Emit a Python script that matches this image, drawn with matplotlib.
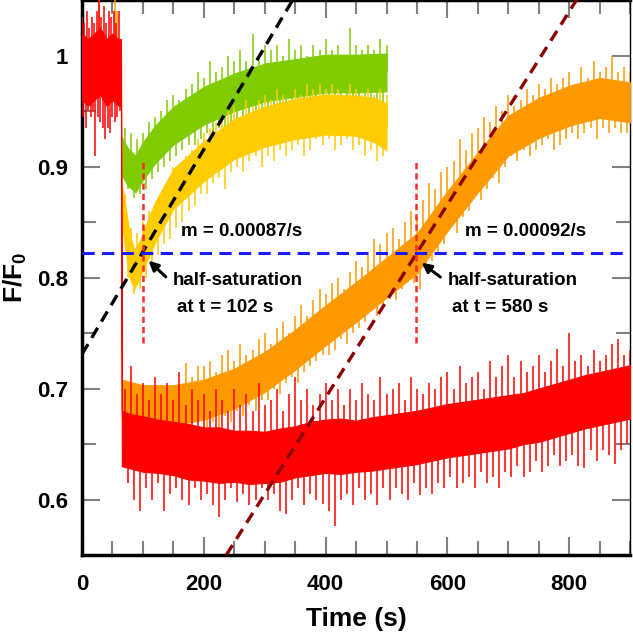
import numpy as np
import matplotlib
matplotlib.use('Agg')
import matplotlib.pyplot as plt
from matplotlib.ticker import MultipleLocator

# --- data (time in s, F/F0) ---
# dense core of each noisy trace: lower and upper edge
red_t = [0, 10, 20, 30, 40, 50, 60, 64, 65.5, 80, 100, 125, 150, 175, 200, 225, 250, 275, 300, 325, 350,
         375, 400, 425, 450, 475, 500, 525, 550, 575, 600, 625, 650, 675, 700, 725, 750, 775, 800, 825,
         850, 875, 900]
red_lo = [0.96, 0.955, 0.96, 0.965, 0.955, 0.96, 0.955, 0.955, 0.63, 0.628, 0.625, 0.624, 0.622, 0.618,
          0.617, 0.615, 0.616, 0.614, 0.615, 0.616, 0.62, 0.622, 0.624, 0.623, 0.625, 0.626, 0.628, 0.63,
          0.632, 0.635, 0.638, 0.64, 0.642, 0.644, 0.646, 0.65, 0.652, 0.656, 0.66, 0.664, 0.667, 0.67, 0.673]
red_hi = [1.02, 1.015, 1.02, 1.025, 1.015, 1.02, 1.015, 1.015, 0.68, 0.677, 0.675, 0.672, 0.67, 0.668,
          0.665, 0.665, 0.662, 0.662, 0.661, 0.664, 0.666, 0.67, 0.672, 0.673, 0.671, 0.674, 0.676, 0.678,
          0.68, 0.683, 0.686, 0.688, 0.69, 0.692, 0.694, 0.696, 0.7, 0.704, 0.708, 0.712, 0.715, 0.718, 0.721]

orange_t = [0, 20, 40, 60, 64, 65.5, 100, 150, 200, 250, 300, 350, 400, 450, 500, 550, 600, 650, 700, 750,
            800, 850, 900]
orange_lo = [0.972, 0.972, 0.972, 0.972, 0.972, 0.672, 0.667, 0.667, 0.672, 0.682, 0.697, 0.717, 0.739,
             0.760, 0.782, 0.804, 0.842, 0.877, 0.910, 0.926, 0.937, 0.944, 0.940]
orange_hi = [1.008, 1.008, 1.008, 1.008, 1.008, 0.708, 0.703, 0.703, 0.708, 0.718, 0.733, 0.753, 0.775,
             0.796, 0.818, 0.840, 0.878, 0.913, 0.946, 0.962, 0.973, 0.980, 0.976]

yellow_t = [65, 70, 78, 86, 95, 105, 120, 150, 200, 250, 300, 350, 400, 450, 480, 500]
yellow_lo = [0.855, 0.83, 0.80, 0.79, 0.80, 0.813, 0.832, 0.862, 0.887, 0.907, 0.918, 0.925, 0.929, 0.928,
             0.922, 0.915]
yellow_hi = [0.885, 0.87, 0.84, 0.825, 0.833, 0.848, 0.868, 0.898, 0.923, 0.943, 0.954, 0.961, 0.965, 0.964,
             0.962, 0.957]

green_t = [65, 75, 88, 100, 120, 150, 200, 250, 300, 350, 400, 450, 500]
green_lo = [0.893, 0.883, 0.877, 0.888, 0.903, 0.92, 0.938, 0.95, 0.959, 0.963, 0.967, 0.967, 0.968]
green_hi = [0.927, 0.917, 0.91, 0.922, 0.937, 0.954, 0.972, 0.984, 0.993, 0.997, 1.001, 1.001, 1.002]

# noise spikes: tips of the upward and downward excursions
red_up_t = list(range(0, 61, 4)) + list(range(70, 901, 10))
red_up = [1.035, 1.03, 1.04, 1.025, 1.035, 1.03, 1.04, 1.05, 1.035, 1.045, 1.03, 1.04, 1.035, 1.04, 1.03, 1.04,
          0.70, 0.72, 0.695,
          0.705, 0.69, 0.71, 0.695, 0.705, 0.69, 0.715, 0.685, 0.70, 0.69,
          0.695, 0.68, 0.70, 0.69, 0.68, 0.70, 0.685, 0.695, 0.68, 0.705,
          0.685, 0.69, 0.70, 0.68, 0.695, 0.71, 0.69, 0.70, 0.685, 0.695,
          0.705, 0.69, 0.70, 0.685, 0.70, 0.69, 0.705, 0.695, 0.69, 0.71,
          0.695, 0.70, 0.705, 0.69, 0.71, 0.70, 0.695, 0.705, 0.70, 0.71,
          0.715, 0.70, 0.72, 0.705, 0.71, 0.715, 0.70, 0.725, 0.71, 0.72,
          0.73, 0.71, 0.725, 0.715, 0.72, 0.73, 0.715, 0.725, 0.736, 0.72,
          0.75, 0.725, 0.73, 0.72, 0.735, 0.725, 0.73, 0.74, 0.745, 0.73,
          0.735]
red_dn_t = list(range(2, 63, 4)) + list(range(75, 896, 10))
red_dn = [0.945, 0.935, 0.95, 0.945, 0.95, 0.91, 0.945, 0.94, 0.935, 0.925, 0.935, 0.93, 0.945, 0.94, 0.945, 0.95,
          0.615, 0.60, 0.59,
          0.61, 0.60, 0.615, 0.59, 0.605, 0.61, 0.60, 0.595, 0.61, 0.60,
          0.605, 0.595, 0.584, 0.60, 0.61, 0.598, 0.605, 0.595, 0.60, 0.61,
          0.60, 0.605, 0.59, 0.587, 0.60, 0.61, 0.595, 0.605, 0.60, 0.596,
          0.59, 0.576, 0.60, 0.605, 0.595, 0.61, 0.60, 0.605, 0.595, 0.61,
          0.60, 0.61, 0.605, 0.60, 0.615, 0.604, 0.61, 0.605, 0.615, 0.61,
          0.62, 0.61, 0.615, 0.62, 0.61, 0.625, 0.615, 0.62, 0.61, 0.625,
          0.62, 0.63, 0.62, 0.625, 0.635, 0.625, 0.63, 0.64, 0.63, 0.635,
          0.64, 0.63, 0.628, 0.645, 0.635, 0.645, 0.64, 0.632, 0.645, 0.65]

orange_up_t = [28, 54, 57] + list(range(170, 901, 10))
orange_up = [1.05, 1.05, 1.04,
             0.723, 0.71, 0.72,
             0.72, 0.725, 0.715, 0.73, 0.735, 0.725, 0.74, 0.73, 0.735, 0.745,
             0.75, 0.74, 0.755, 0.76, 0.75, 0.765, 0.775, 0.765, 0.78, 0.79,
             0.785, 0.795, 0.80, 0.79, 0.805, 0.815, 0.81, 0.82, 0.835, 0.83,
             0.84, 0.845, 0.835, 0.85, 0.86, 0.855, 0.87, 0.885, 0.88, 0.895,
             0.90, 0.905, 0.925, 0.915, 0.93, 0.935, 0.945, 0.94, 0.955, 0.95,
             0.965, 0.955, 0.96, 0.97, 0.965, 0.975, 0.97, 0.98, 0.975, 0.98,
             0.985, 0.975, 0.99, 0.98, 0.995, 0.985, 0.99, 1.0, 0.985, 0.99,
             0.985]
orange_dn_t = list(range(205, 896, 10))
orange_dn = [0.665, 0.67, 0.66, 0.675, 0.67, 0.68, 0.675, 0.685, 0.68, 0.69,
             0.69, 0.70, 0.695, 0.705, 0.71, 0.705, 0.715, 0.72, 0.725, 0.73,
             0.73, 0.735, 0.745, 0.74, 0.75, 0.755, 0.76, 0.77, 0.765, 0.775,
             0.785, 0.78, 0.79, 0.80, 0.795, 0.79, 0.81, 0.815, 0.82, 0.83,
             0.845, 0.84, 0.855, 0.86, 0.875, 0.87, 0.88, 0.89, 0.885, 0.90,
             0.91, 0.905, 0.915, 0.91, 0.915, 0.92, 0.925, 0.915, 0.92, 0.925,
             0.93, 0.925, 0.93, 0.935, 0.925, 0.935, 0.93, 0.935, 0.93, 0.93]

yellow_up_t = list(range(70, 501, 10))
yellow_up = [0.875, 0.845, 0.84,
             0.85, 0.86, 0.865, 0.875, 0.88, 0.90, 0.90, 0.91, 0.915, 0.925,
             0.93, 0.935, 0.94, 0.945, 0.95, 0.955, 0.945, 0.96, 0.955, 0.96,
             0.965, 0.96, 0.97, 0.965, 0.96, 0.97, 0.965, 0.975, 0.97, 0.975,
             0.97, 0.975, 0.97, 0.965, 0.975, 0.97, 0.965, 0.97, 0.965, 0.97,
             0.965]
yellow_dn_t = list(range(75, 496, 10))
yellow_dn = [0.80, 0.785, 0.79,
             0.80, 0.81, 0.82, 0.83, 0.835, 0.845, 0.85, 0.86, 0.865, 0.875,
             0.875, 0.885, 0.89, 0.88, 0.895, 0.90, 0.895, 0.905, 0.91, 0.90,
             0.91, 0.905, 0.915, 0.91, 0.915, 0.92, 0.91, 0.915, 0.925, 0.92,
             0.925, 0.915, 0.92, 0.925, 0.915, 0.92, 0.91, 0.915, 0.905, 0.91]

green_up_t = list(range(70, 501, 10))
green_up = [0.935, 0.93, 0.925,
            0.93, 0.94, 0.945, 0.95, 0.96, 0.965, 0.96, 0.97, 0.975, 0.985,
            0.98, 0.995, 0.985, 0.99, 1.0, 0.995, 1.005, 0.995, 1.02, 1.0,
            1.01, 1.005, 1.01, 1.0, 1.015, 1.005, 1.01, 1.0, 1.01, 1.005,
            1.015, 1.005, 1.01, 1.0, 1.025, 1.01, 1.005, 1.01, 1.005, 1.015,
            1.01]
green_dn_t = list(range(75, 496, 10))
green_dn = [0.88, 0.872, 0.875,
            0.88, 0.889, 0.895, 0.90, 0.905, 0.91, 0.915, 0.92, 0.92, 0.925,
            0.93, 0.925, 0.935, 0.93, 0.94, 0.935, 0.945, 0.94, 0.945, 0.95,
            0.945, 0.95, 0.955, 0.95, 0.955, 0.96, 0.95, 0.955, 0.96, 0.955,
            0.96, 0.955, 0.96, 0.955, 0.96, 0.955, 0.96, 0.955, 0.96, 0.955]

# linear fits and half-saturation markers
fit1_t = [0, 350]
fit1_y = [0.731, 1.054]
fit2_t = [237, 815]
fit2_y = [0.55, 1.053]
half_level = 0.822
half_t = [100, 549]
marker_lo = 0.741
marker_hi = 0.904

plt.rcParams['font.family'] = ['Liberation Sans', 'DejaVu Sans']
plt.rcParams['font.weight'] = 'bold'
plt.rcParams['axes.labelweight'] = 'bold'
plt.rcParams['mathtext.fontset'] = 'custom'
plt.rcParams['mathtext.rm'] = 'Liberation Sans:bold'
plt.rcParams['mathtext.default'] = 'rm'

fig = plt.figure(figsize=(6.33, 6.39), dpi=100)
ax = fig.add_axes([0.1295, 0.1315, 0.866, 0.868])


def trace(t, lo, hi, up_t, up, dn_t, dn, color, z):
    ax.fill_between(t, lo, hi, color=color, lw=0.8, zorder=z)
    for st, sy in [(up_t, up), (dn_t, dn)]:
        mid = (np.interp(st, t, lo) + np.interp(st, t, hi)) / 2
        ax.vlines(st, mid, sy, color=color, lw=1.1, zorder=z)


trace(green_t, green_lo, green_hi, green_up_t, green_up, green_dn_t, green_dn, '#80cc00', 2)
trace(yellow_t, yellow_lo, yellow_hi, yellow_up_t, yellow_up, yellow_dn_t, yellow_dn, '#ffcc00', 3)
trace(orange_t, orange_lo, orange_hi, orange_up_t, orange_up, orange_dn_t, orange_dn, '#ff9900', 4)
trace(red_t, red_lo, red_hi, red_up_t, red_up, red_dn_t, red_dn, '#ff0000', 5)

ax.plot(fit1_t, fit1_y, color='black', lw=2.4, dashes=(3.5, 2.2), zorder=7)
ax.plot(fit2_t, fit2_y, color='#8b0000', lw=2.4, dashes=(3.5, 2.2), zorder=7)
ax.axhline(half_level, color='#1a1aff', lw=2.2, dashes=(4, 2.4), zorder=7)
ax.vlines(half_t, marker_lo, marker_hi, color='#ff2a2a', lw=1.8, linestyles=(0, (2.5, 1.6)), zorder=7)

ax.annotate('', xy=(106, 0.817), xytext=(141, 0.799),
            arrowprops=dict(arrowstyle='-|>', lw=2.2, color='black', mutation_scale=14), zorder=8)
ax.annotate('', xy=(554, 0.815), xytext=(592, 0.799),
            arrowprops=dict(arrowstyle='-|>', lw=2.2, color='black', mutation_scale=14), zorder=8)

tsize = 13.5
ax.text(262, 0.842, 'm = 0.00087/s', fontsize=tsize, ha='center', va='center')
ax.text(256, 0.797, 'half-saturation', fontsize=tsize, ha='center', va='center')
ax.text(235, 0.773, 'at t = 102 s', fontsize=tsize, ha='center', va='center')
ax.text(728, 0.842, 'm = 0.00092/s', fontsize=tsize, ha='center', va='center')
ax.text(707, 0.797, 'half-saturation', fontsize=tsize, ha='center', va='center')
ax.text(686, 0.773, 'at t = 580 s', fontsize=tsize, ha='center', va='center')

ax.set_xlim(0, 900)
ax.set_ylim(0.55, 1.05)
ax.xaxis.set_major_locator(MultipleLocator(200))
ax.xaxis.set_minor_locator(MultipleLocator(50))
ax.yaxis.set_minor_locator(MultipleLocator(0.05))
ax.set_yticks([0.6, 0.7, 0.8, 0.9, 1.0])
ax.set_yticklabels(['0.6', '0.7', '0.8', '0.9', '1'])
ax.tick_params(which='both', direction='in', top=True, right=True, color='#808080', width=1.5)
ax.tick_params(which='major', length=13, labelsize=16, pad=14)
ax.tick_params(which='minor', length=10)
ax.tick_params(axis='y', which='major', pad=10)

for side in ['left', 'bottom', 'top']:
    ax.spines[side].set_linewidth(2.5)
ax.spines['right'].set_linewidth(1)

ax.set_xlabel('Time (s)', fontsize=19, fontweight='bold', labelpad=8)
ax.set_ylabel('F/F$_0$', fontsize=19, fontweight='bold', labelpad=6)

fig.savefig('out.png', dpi=100)
